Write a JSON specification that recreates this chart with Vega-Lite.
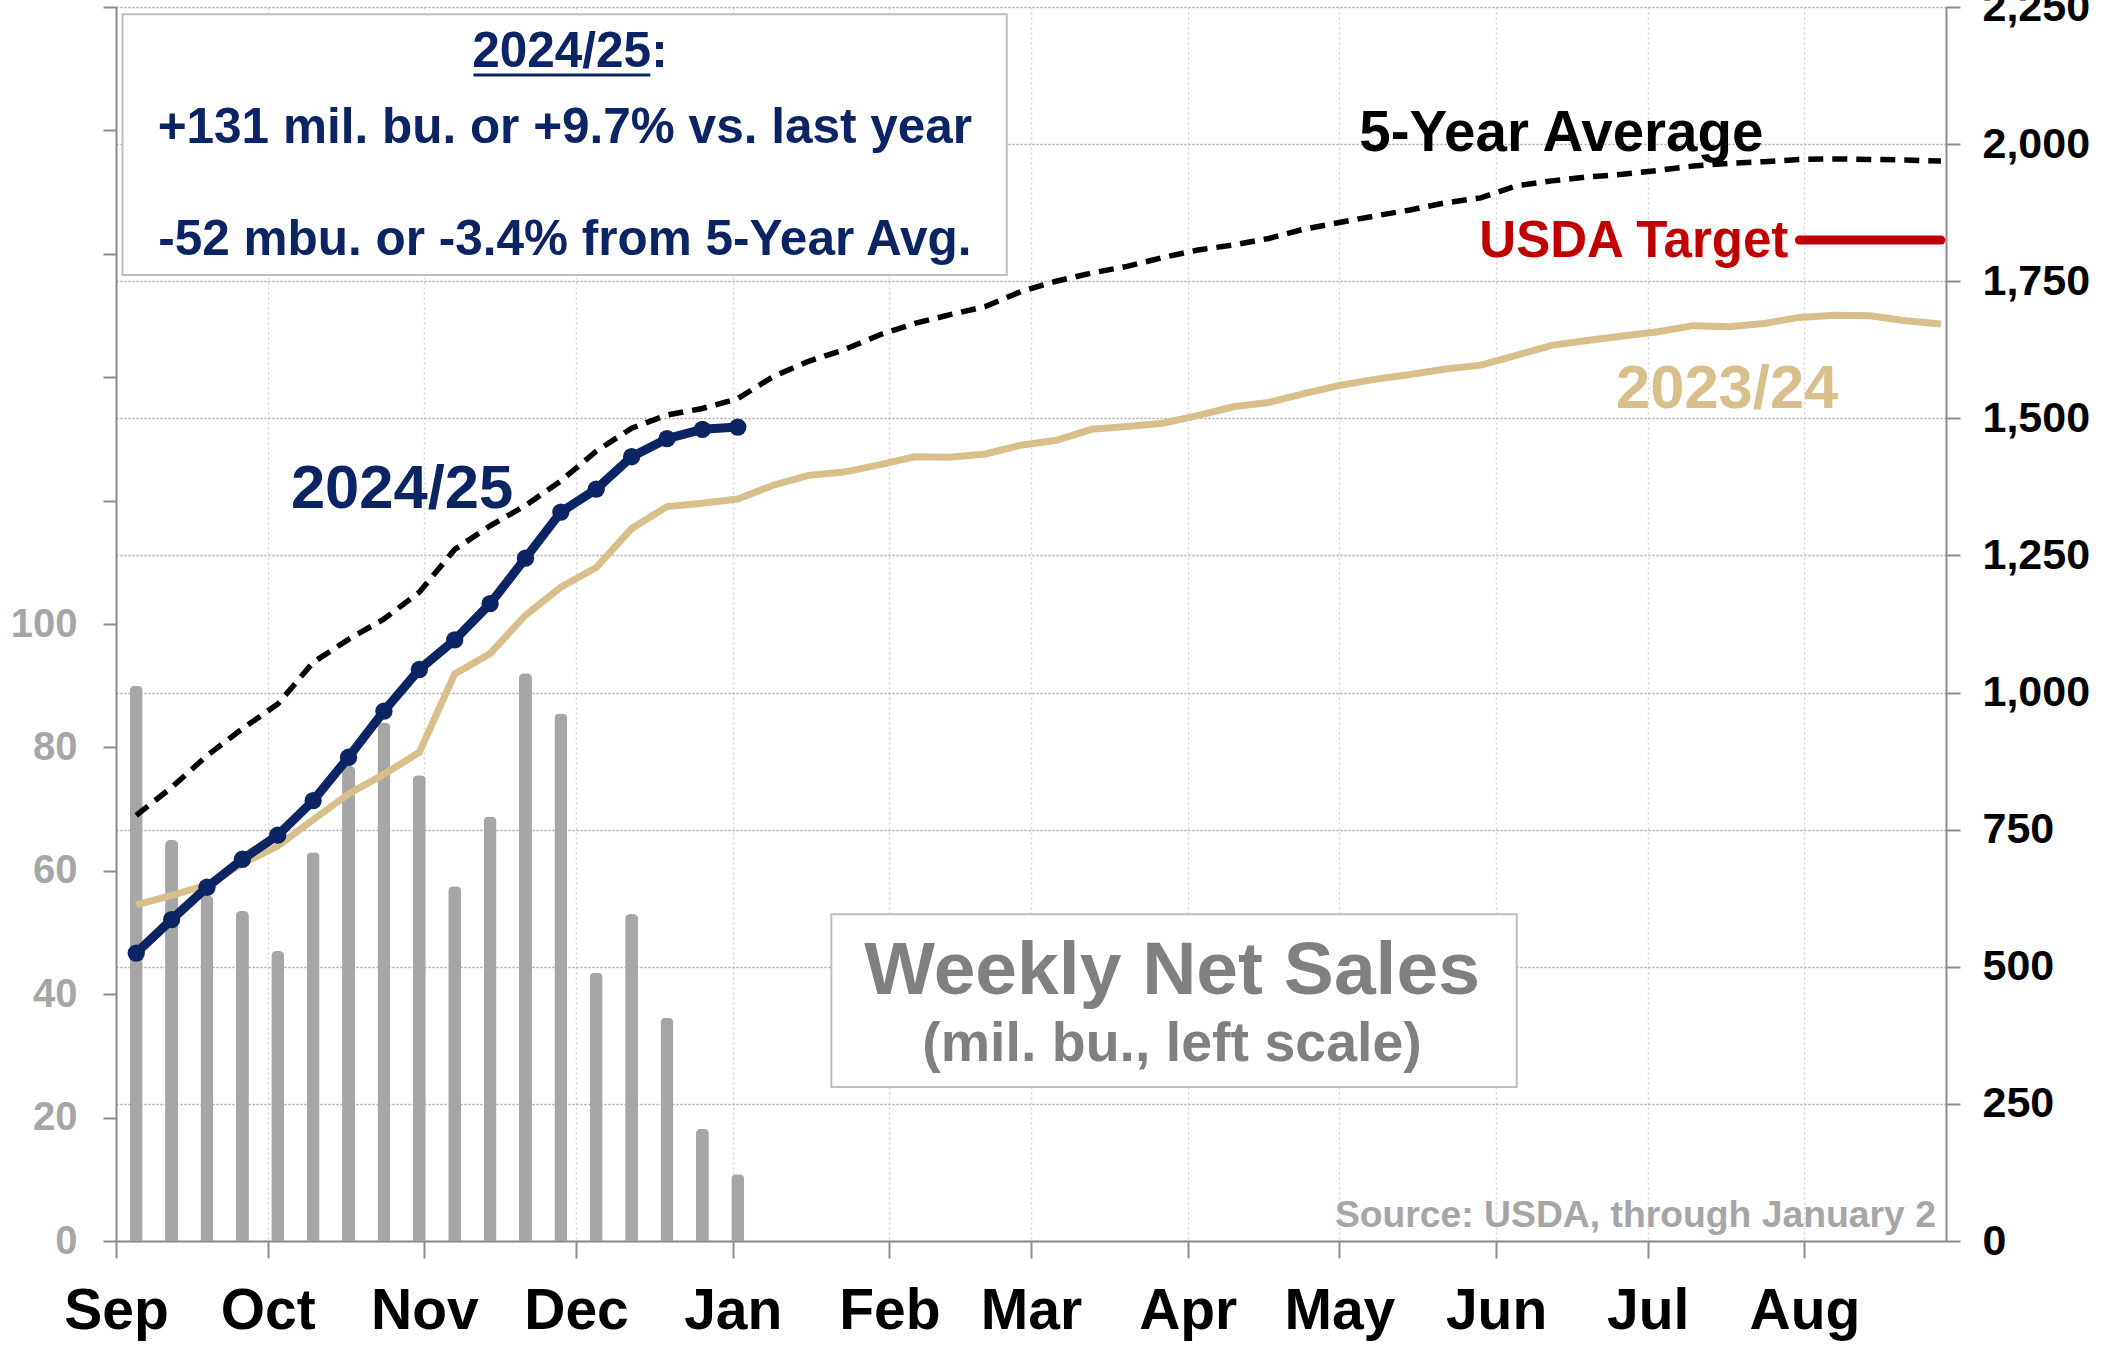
{
  "$schema": "https://vega.github.io/schema/vega-lite/v6.json",
  "width": 1830,
  "height": 1234,
  "autosize": {"type": "none"},
  "padding": {"left": 116, "top": 7, "right": 155, "bottom": 106},
  "background": "white",
  "config": {"view": {"stroke": null}, "font": "Liberation Sans"},
  "data": {"values": [
    {"date": "2024-09-05", "weekly": 90, "cur": 525, "prev": 613, "avg5": 776},
    {"date": "2024-09-12", "weekly": 65, "cur": 586, "prev": 630, "avg5": 827},
    {"date": "2024-09-19", "weekly": 56, "cur": 645, "prev": 649, "avg5": 885},
    {"date": "2024-09-26", "weekly": 53.5, "cur": 696, "prev": 688, "avg5": 934},
    {"date": "2024-10-03", "weekly": 47, "cur": 740, "prev": 720, "avg5": 979},
    {"date": "2024-10-10", "weekly": 63, "cur": 803, "prev": 768, "avg5": 1055},
    {"date": "2024-10-17", "weekly": 77, "cur": 882, "prev": 815, "avg5": 1097},
    {"date": "2024-10-24", "weekly": 84, "cur": 966, "prev": 851, "avg5": 1134},
    {"date": "2024-10-31", "weekly": 75.5, "cur": 1042, "prev": 891, "avg5": 1183},
    {"date": "2024-11-07", "weekly": 57.5, "cur": 1096, "prev": 1034, "avg5": 1261},
    {"date": "2024-11-14", "weekly": 68.8, "cur": 1162, "prev": 1071, "avg5": 1304},
    {"date": "2024-11-21", "weekly": 92, "cur": 1245, "prev": 1141, "avg5": 1341},
    {"date": "2024-11-28", "weekly": 85.5, "cur": 1329, "prev": 1192, "avg5": 1386},
    {"date": "2024-12-05", "weekly": 43.5, "cur": 1371, "prev": 1228, "avg5": 1440},
    {"date": "2024-12-12", "weekly": 53, "cur": 1430, "prev": 1299, "avg5": 1482},
    {"date": "2024-12-19", "weekly": 36.2, "cur": 1463, "prev": 1339, "avg5": 1506},
    {"date": "2024-12-26", "weekly": 18.2, "cur": 1480, "prev": 1345, "avg5": 1518},
    {"date": "2025-01-02", "weekly": 10.8, "cur": 1484, "prev": 1353, "avg5": 1536},
    {"date": "2025-01-09", "prev": 1378, "avg5": 1576},
    {"date": "2025-01-16", "prev": 1396, "avg5": 1604},
    {"date": "2025-01-23", "prev": 1402, "avg5": 1625},
    {"date": "2025-01-30", "prev": 1415, "avg5": 1652},
    {"date": "2025-02-06", "prev": 1430, "avg5": 1673},
    {"date": "2025-02-13", "prev": 1429, "avg5": 1689},
    {"date": "2025-02-20", "prev": 1435, "avg5": 1704},
    {"date": "2025-02-27", "prev": 1451, "avg5": 1731},
    {"date": "2025-03-06", "prev": 1460, "avg5": 1750},
    {"date": "2025-03-13", "prev": 1480, "avg5": 1765},
    {"date": "2025-03-20", "prev": 1485, "avg5": 1777},
    {"date": "2025-03-27", "prev": 1491, "avg5": 1793},
    {"date": "2025-04-03", "prev": 1505, "avg5": 1807},
    {"date": "2025-04-10", "prev": 1521, "avg5": 1816},
    {"date": "2025-04-17", "prev": 1529, "avg5": 1828},
    {"date": "2025-04-24", "prev": 1545, "avg5": 1845},
    {"date": "2025-05-01", "prev": 1560, "avg5": 1857},
    {"date": "2025-05-08", "prev": 1571, "avg5": 1869},
    {"date": "2025-05-15", "prev": 1580, "avg5": 1880},
    {"date": "2025-05-22", "prev": 1590, "avg5": 1893},
    {"date": "2025-05-29", "prev": 1597, "avg5": 1902},
    {"date": "2025-06-05", "prev": 1615, "avg5": 1924},
    {"date": "2025-06-12", "prev": 1633, "avg5": 1933},
    {"date": "2025-06-19", "prev": 1642, "avg5": 1940},
    {"date": "2025-06-26", "prev": 1650, "avg5": 1945},
    {"date": "2025-07-03", "prev": 1658, "avg5": 1952},
    {"date": "2025-07-10", "prev": 1669, "avg5": 1960},
    {"date": "2025-07-17", "prev": 1667, "avg5": 1965},
    {"date": "2025-07-24", "prev": 1673, "avg5": 1968},
    {"date": "2025-07-31", "prev": 1684, "avg5": 1972},
    {"date": "2025-08-07", "prev": 1688, "avg5": 1973},
    {"date": "2025-08-14", "prev": 1687, "avg5": 1972},
    {"date": "2025-08-21", "prev": 1678, "avg5": 1971},
    {"date": "2025-08-28", "prev": 1672, "avg5": 1969}
  ]},
  "layer": [
    {
      "transform": [{"filter": "isValid(datum.weekly)"}],
      "mark": {"type": "bar", "width": 13, "color": "#a6a6a6", "cornerRadiusTopLeft": 5, "cornerRadiusTopRight": 5},
      "encoding": {
        "x": {
          "field": "date", "type": "temporal",
          "scale": {"type": "utc", "padding": 0, "domain": [{"year": 2024, "month": 9, "date": 1, "utc": true}, {"year": 2025, "month": 8, "date": 29, "utc": true}]},
          "axis": {
            "title": null,
            "tickCount": {"interval": "month", "step": 1},
            "labelExpr": "utcFormat(datum.value, '%b')",
            "labelFont": "Liberation Sans", "labelFontWeight": "bold", "labelFontSize": 57, "labelColor": "#000000",
            "labelFlush": false, "labelOverlap": false, "labelBound": false,
            "labelBaseline": "alphabetic", "labelPadding": 70,
            "tickSize": 17, "tickColor": "#8c8c8c", "tickWidth": 2,
            "domainColor": "#8c8c8c", "domainWidth": 2,
            "grid": true, "gridColor": "#d4d4d4", "gridDash": [2, 3], "gridWidth": 1.5
          }
        },
        "y": {
          "field": "weekly", "type": "quantitative",
          "scale": {"domain": [0, 200], "nice": false},
          "axis": {
            "orient": "left", "title": null,
            "values": [0, 20, 40, 60, 80, 100, 120, 140, 160, 180, 200],
            "labelExpr": "datum.value <= 100 ? datum.label : ''",
            "labelFont": "Liberation Sans", "labelFontWeight": "bold", "labelFontSize": 40, "labelColor": "#a6a6a6",
            "labelPadding": 26, "labelOverlap": false, "labelFlush": false,
            "tickSize": 13, "tickColor": "#8c8c8c", "tickWidth": 2,
            "domainColor": "#8c8c8c", "domainWidth": 2, "grid": false
          }
        }
      }
    },
    {
      "layer": [
        {
          "data": {"values": [{}]},
          "mark": {"type": "rect", "fill": "white", "stroke": "#bfbfbf", "strokeWidth": 2},
          "encoding": {
            "x": {"datum": 1725260400000, "type": "temporal", "scale": {"type": "utc"}},
            "x2": {"datum": 1740373200000},
            "y": {"datum": 2237, "type": "quantitative"},
            "y2": {"datum": 1761.5}
          }
        },
        {
          "data": {"values": [{}]},
          "mark": {"type": "rect", "fill": "white", "stroke": "#bfbfbf", "strokeWidth": 2},
          "encoding": {
            "x": {"datum": 1737374400000, "type": "temporal", "scale": {"type": "utc"}},
            "x2": {"datum": 1749088800000},
            "y": {"datum": 596, "type": "quantitative"},
            "y2": {"datum": 281}
          }
        },
        {
          "transform": [{"filter": "isValid(datum.prev)"}],
          "mark": {"type": "line", "color": "#d9bf8c", "strokeWidth": 7},
          "encoding": {
            "x": {"field": "date", "type": "temporal", "scale": {"type": "utc"}},
            "y": {
              "field": "prev", "type": "quantitative",
              "scale": {"domain": [0, 2250], "nice": false},
              "axis": {
                "orient": "right", "title": null,
                "values": [0, 250, 500, 750, 1000, 1250, 1500, 1750, 2000, 2250],
                "labelExpr": "format(datum.value, ',')",
                "labelFont": "Liberation Sans", "labelFontWeight": "bold", "labelFontSize": 43, "labelColor": "#000000",
                "labelPadding": 22, "labelOverlap": false, "labelFlush": false,
                "tickSize": 14, "tickColor": "#8c8c8c", "tickWidth": 2,
                "domainColor": "#8c8c8c", "domainWidth": 2,
                "grid": true, "gridColor": "#a6a6a6", "gridDash": [2, 2], "gridWidth": 1.5
              }
            }
          }
        },
        {
          "transform": [{"filter": "isValid(datum.avg5)"}],
          "mark": {"type": "line", "color": "#000000", "strokeWidth": 5.5, "strokeDash": [15, 9]},
          "encoding": {
            "x": {"field": "date", "type": "temporal", "scale": {"type": "utc"}},
            "y": {"field": "avg5", "type": "quantitative"}
          }
        },
        {
          "transform": [{"filter": "isValid(datum.cur)"}],
          "mark": {"type": "line", "color": "#0b2463", "strokeWidth": 9},
          "encoding": {
            "x": {"field": "date", "type": "temporal", "scale": {"type": "utc"}},
            "y": {"field": "cur", "type": "quantitative"}
          }
        },
        {
          "transform": [{"filter": "isValid(datum.cur)"}],
          "mark": {"type": "point", "filled": true, "color": "#0b2463", "size": 300, "opacity": 1},
          "encoding": {
            "x": {"field": "date", "type": "temporal", "scale": {"type": "utc"}},
            "y": {"field": "cur", "type": "quantitative"}
          }
        },
        {
          "data": {"values": [{}]},
          "mark": {"type": "rule", "color": "#c00000", "strokeWidth": 9, "strokeCap": "round"},
          "encoding": {
            "x": {"datum": 1753920000000, "type": "temporal", "scale": {"type": "utc"}},
            "x2": {"datum": 1756339200000},
            "y": {"datum": 1825, "type": "quantitative"}
          }
        },
        {
          "data": {"values": [{}]},
          "mark": {"type": "rule", "color": "#0b2463", "strokeWidth": 3},
          "encoding": {
            "x": {"datum": 1731258000000, "type": "temporal", "scale": {"type": "utc"}},
            "x2": {"datum": 1734282000000},
            "y": {"datum": 2126, "type": "quantitative"}
          }
        },
        {
          "data": {"values": [{}]},
          "mark": {"type": "text", "text": "2024/25:", "font": "Liberation Sans", "fontWeight": "bold", "fontSize": 49.5, "align": "center", "baseline": "alphabetic", "color": "#0b2463"},
          "encoding": {
            "x": {"datum": 1732906800000, "type": "temporal", "scale": {"type": "utc"}},
            "y": {"datum": 2141, "type": "quantitative"}
          }
        },
        {
          "data": {"values": [{}]},
          "mark": {"type": "text", "text": "+131 mil. bu. or +9.7% vs. last year", "font": "Liberation Sans", "fontWeight": "bold", "fontSize": 49.5, "align": "center", "baseline": "alphabetic", "color": "#0b2463"},
          "encoding": {
            "x": {"datum": 1732820400000, "type": "temporal", "scale": {"type": "utc"}},
            "y": {"datum": 2002, "type": "quantitative"}
          }
        },
        {
          "data": {"values": [{}]},
          "mark": {"type": "text", "text": "-52 mbu. or -3.4% from 5-Year Avg.", "font": "Liberation Sans", "fontWeight": "bold", "fontSize": 49.5, "align": "center", "baseline": "alphabetic", "color": "#0b2463"},
          "encoding": {
            "x": {"datum": 1732820400000, "type": "temporal", "scale": {"type": "utc"}},
            "y": {"datum": 1798, "type": "quantitative"}
          }
        },
        {
          "data": {"values": [{}]},
          "mark": {"type": "text", "text": "2024/25", "font": "Liberation Sans", "fontWeight": "bold", "fontSize": 61.5, "align": "center", "baseline": "alphabetic", "color": "#0b2463"},
          "encoding": {
            "x": {"datum": 1730037600000, "type": "temporal", "scale": {"type": "utc"}},
            "y": {"datum": 1337, "type": "quantitative"}
          }
        },
        {
          "data": {"values": [{}]},
          "mark": {"type": "text", "text": "5-Year Average", "font": "Liberation Sans", "fontWeight": "bold", "fontSize": 56.5, "align": "center", "baseline": "alphabetic", "color": "#000000"},
          "encoding": {
            "x": {"datum": 1749852000000, "type": "temporal", "scale": {"type": "utc"}},
            "y": {"datum": 1988, "type": "quantitative"}
          }
        },
        {
          "data": {"values": [{}]},
          "mark": {"type": "text", "text": "USDA Target", "font": "Liberation Sans", "fontWeight": "bold", "fontSize": 51, "align": "right", "baseline": "alphabetic", "color": "#c00000"},
          "encoding": {
            "x": {"datum": 1753729200000, "type": "temporal", "scale": {"type": "utc"}},
            "y": {"datum": 1794, "type": "quantitative"}
          }
        },
        {
          "data": {"values": [{}]},
          "mark": {"type": "text", "text": "2023/24", "font": "Liberation Sans", "fontWeight": "bold", "fontSize": 61.5, "align": "center", "baseline": "alphabetic", "color": "#d9bf8c"},
          "encoding": {
            "x": {"datum": 1752685200000, "type": "temporal", "scale": {"type": "utc"}},
            "y": {"datum": 1519, "type": "quantitative"}
          }
        },
        {
          "data": {"values": [{}]},
          "mark": {"type": "text", "text": "Weekly Net Sales", "font": "Liberation Sans", "fontWeight": "bold", "fontSize": 75, "align": "center", "baseline": "alphabetic", "color": "#808080"},
          "encoding": {
            "x": {"datum": 1743197760000, "type": "temporal", "scale": {"type": "utc"}},
            "y": {"datum": 450, "type": "quantitative"}
          }
        },
        {
          "data": {"values": [{}]},
          "mark": {"type": "text", "text": "(mil. bu., left scale)", "font": "Liberation Sans", "fontWeight": "bold", "fontSize": 55.5, "align": "center", "baseline": "alphabetic", "color": "#808080"},
          "encoding": {
            "x": {"datum": 1743197760000, "type": "temporal", "scale": {"type": "utc"}},
            "y": {"datum": 328, "type": "quantitative"}
          }
        },
        {
          "data": {"values": [{}]},
          "mark": {"type": "text", "text": "Source: USDA, through January 2", "font": "Liberation Sans", "fontWeight": "bold", "fontSize": 37.3, "align": "right", "baseline": "alphabetic", "color": "#a6a6a6"},
          "encoding": {
            "x": {"datum": 1756252800000, "type": "temporal", "scale": {"type": "utc"}},
            "y": {"datum": 25, "type": "quantitative"}
          }
        }
      ]
    }
  ],
  "resolve": {"scale": {"y": "independent"}, "axis": {"y": "independent"}}
}
